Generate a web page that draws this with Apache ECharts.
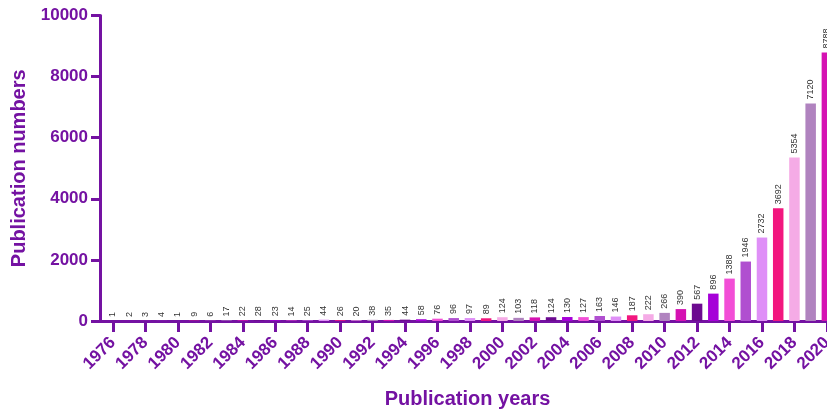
<!DOCTYPE html>
<html>
<head>
<meta charset="utf-8">
<script src="https://cdn.jsdelivr.net/npm/echarts@6/dist/echarts.min.js"></script>
<style>html,body{margin:0;padding:0;background:#fff}#c{width:827px;height:415px}</style>
</head>
<body>
<div id="c"></div>
<script>
const years = [];
for (let y = 1976; y <= 2020; y++) years.push(y);
const publications = [1, 2, 3, 4, 1, 9, 6, 17, 22, 28, 23, 14, 25, 44, 26, 20, 38, 35, 44, 58,
  76, 96, 97, 89, 124, 103, 118, 124, 130, 127, 163, 146, 187, 222, 266, 390, 567, 896, 1388,
  1946, 2732, 3692, 5354, 7120, 8788];
const yTicks = [0, 2000, 4000, 6000, 8000, 10000];
const xTicks = [1976, 1978, 1980, 1982, 1984, 1986, 1988, 1990, 1992, 1994, 1996, 1998, 2000,
  2002, 2004, 2006, 2008, 2010, 2012, 2014, 2016, 2018, 2020];
const palette = ['#6c0a90', '#a600d8', '#f24ed6', '#b04fd0', '#df8ff7', '#f2167e', '#f5abe6', '#b083bf', '#d512b2'];
const axisColor = '#7412a2';

const chart = echarts.init(document.getElementById('c'));
chart.setOption({
  animation: false,
  grid: { left: 100, top: 15.5, height: 305.5, width: 735, outerBoundsMode: 'none', containLabel: false },
  xAxis: {
    type: 'value',
    min: 1975.2,
    max: 2020.5,
    name: 'Publication years',
    nameLocation: 'middle',
    nameGap: 68,
    nameTextStyle: { color: axisColor, fontSize: 20, fontWeight: 'bold', fontFamily: 'Liberation Sans' },
    axisLine: { show: true, lineStyle: { color: axisColor, width: 3 } },
    axisTick: { show: true, customValues: xTicks, length: 11, lineStyle: { color: axisColor, width: 3 } },
    axisLabel: {
      customValues: xTicks, rotate: 45, margin: 19,
      color: axisColor, fontSize: 17, fontWeight: 'bold', fontFamily: 'Liberation Sans',
      formatter: v => String(v)
    },
    splitLine: { show: false }
  },
  yAxis: {
    type: 'value',
    min: 0, max: 10000, interval: 2000,
    name: 'Publication numbers',
    nameLocation: 'middle',
    nameGap: 68,
    nameTextStyle: { color: axisColor, fontSize: 20, fontWeight: 'bold', fontFamily: 'Liberation Sans' },
    axisLine: { show: true, lineStyle: { color: axisColor, width: 3 } },
    axisTick: { show: true, customValues: yTicks, length: 9, lineStyle: { color: axisColor, width: 3 } },
    axisLabel: {
      customValues: yTicks, color: axisColor, fontSize: 17, fontWeight: 'bold', fontFamily: 'Liberation Sans', margin: 12,
      formatter: v => String(v)
    },
    splitLine: { show: false }
  },
  series: [{
    type: 'bar',
    barWidth: 10.5,
    data: years.map((y, i) => ({
      value: [y, publications[i]],
      itemStyle: { color: palette[i % palette.length] }
    })),
    label: {
      show: true, position: 'top', rotate: 90, align: 'left', verticalAlign: 'middle', distance: 4,
      color: '#333', fontSize: 9, fontFamily: 'Liberation Sans',
      formatter: p => String(p.value[1])
    }
  }]
});
</script>
</body>
</html>
